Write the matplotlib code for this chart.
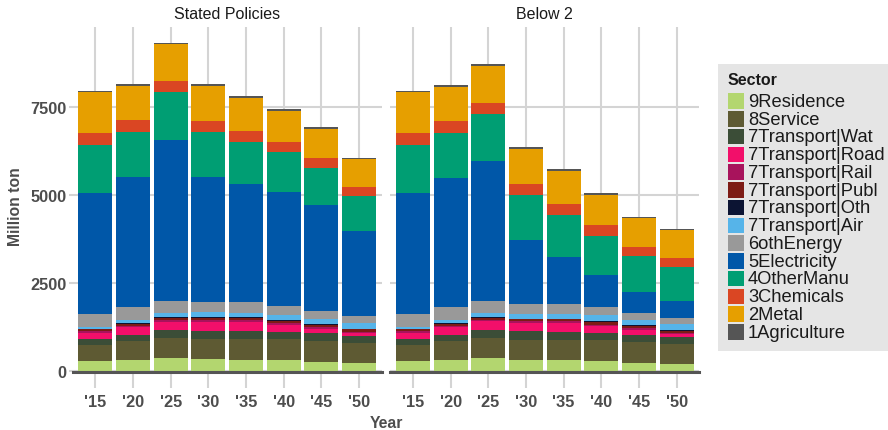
import matplotlib
matplotlib.use('Agg')
import matplotlib.pyplot as plt
import numpy as np
from matplotlib.patches import Rectangle

plt.rcParams['font.family'] = ['Liberation Sans', 'DejaVu Sans']

years = ["'15", "'20", "'25", "'30", "'35", "'40", "'45", "'50"]
panels = ['Stated Policies', 'Below 2']

# stacking order, bottom to top (also the legend order)
sectors = ['9Residence', '8Service', '7Transport|Wat', '7Transport|Road',
           '7Transport|Rail', '7Transport|Publ', '7Transport|Oth', '7Transport|Air',
           '6othEnergy', '5Electricity', '4OtherManu', '3Chemicals', '2Metal',
           '1Agriculture']
colors = ['#b3d66f', '#5e5a33', '#3b4d37', '#f20f6a', '#a8135c', '#7d1b15',
          '#0c1433', '#56b4e9', '#999999', '#0057a8', '#009e73', '#da4623',
          '#e69f00', '#555555']

# Stated Policies (million ton)
sp_residence = [265, 313, 350, 331, 313, 294, 256, 218]
sp_service = [455, 520, 588, 578, 596, 596, 587, 577]
sp_wat = [189, 190, 227, 227, 218, 218, 218, 199]
sp_road = [152, 208, 218, 247, 256, 189, 132, 76]
sp_rail = [66, 47, 47, 56, 47, 48, 48, 38]
sp_publ = [47, 48, 66, 57, 57, 57, 56, 66]
sp_oth = [19, 28, 29, 29, 28, 28, 29, 19]
sp_air = [57, 95, 123, 132, 133, 161, 151, 161]
sp_othenergy = [361, 351, 347, 303, 297, 259, 233, 191]
sp_electricity = [3437, 3703, 4568, 3543, 3359, 3218, 3006, 2432]
sp_othermanu = [1373, 1278, 1346, 1270, 1193, 1137, 1034, 986]
sp_chemicals = [324, 341, 321, 321, 313, 292, 284, 256]
sp_metal = [1165, 966, 1043, 994, 946, 890, 833, 787]
sp_agriculture = [45, 50, 40, 48, 48, 48, 48, 45]

# Below 2
b2_residence = [265, 313, 350, 312, 294, 275, 227, 189]
b2_service = [455, 520, 578, 569, 587, 587, 597, 559]
b2_wat = [189, 190, 227, 236, 227, 218, 199, 208]
b2_road = [152, 208, 247, 247, 246, 180, 142, 76]
b2_rail = [66, 47, 48, 46, 46, 50, 45, 38]
b2_publ = [47, 48, 60, 50, 60, 70, 55, 60]
b2_oth = [19, 28, 24, 17, 17, 22, 23, 16]
b2_air = [57, 95, 114, 148, 148, 168, 161, 180]
b2_othenergy = [361, 351, 342, 285, 261, 230, 201, 164]
b2_electricity = [3437, 3675, 3976, 1803, 1344, 928, 586, 490]
b2_othermanu = [1373, 1287, 1318, 1279, 1193, 1108, 1023, 975]
b2_chemicals = [324, 323, 330, 312, 302, 299, 265, 256]
b2_metal = [1165, 984, 1051, 996, 948, 861, 811, 777]
b2_agriculture = [45, 48, 48, 55, 48, 48, 45, 47]

stated = [sp_residence, sp_service, sp_wat, sp_road, sp_rail, sp_publ, sp_oth,
          sp_air, sp_othenergy, sp_electricity, sp_othermanu, sp_chemicals,
          sp_metal, sp_agriculture]
below2 = [b2_residence, b2_service, b2_wat, b2_road, b2_rail, b2_publ, b2_oth,
          b2_air, b2_othenergy, b2_electricity, b2_othermanu, b2_chemicals,
          b2_metal, b2_agriculture]

W, H = 888, 431
fig = plt.figure(figsize=(W / 100, H / 100), dpi=100)


def px_axes(x0, y0, x1, y1):
    # place axes using pixel coordinates measured from top-left
    return fig.add_axes([x0 / W, 1 - y1 / H, (x1 - x0) / W, (y1 - y0) / H])


grid_col = '#d4d4d4'
lab_col = '#4d4d4d'
axes = [px_axes(72.7, 28, 381.7, 371.7), px_axes(390.3, 28, 699.3, 371.7)]

for k, (ax, title, data) in enumerate(zip(axes, panels, [stated, below2])):
    x = np.arange(len(years))
    bottom = np.zeros(len(years))
    for vals, c in zip(data, colors):
        v = np.array(vals, dtype=float)
        ax.bar(x, v, bottom=bottom, width=0.9, color=c, linewidth=0, zorder=2)
        bottom += v
    ax.set_xlim(-0.6, 7.6)
    ax.set_ylim(0, 9770)
    ax.set_xticks(x)
    ax.set_xticklabels(years)
    ax.set_yticks([0, 2500, 5000, 7500])
    ax.grid(True, color=grid_col, linewidth=1.5, zorder=0)
    ax.set_axisbelow(True)
    for sp in ['top', 'right', 'left']:
        ax.spines[sp].set_visible(False)
    ax.spines['bottom'].set_color('#555555')
    ax.spines['bottom'].set_linewidth(2.2)
    ax.spines['bottom'].set_position(('outward', 1))
    ax.spines['bottom'].set_zorder(3)
    ax.tick_params(axis='x', length=11.5, width=1.5, color=grid_col,
                   labelsize=11.8, labelcolor=lab_col, pad=4.5)
    if k == 0:
        ax.tick_params(axis='y', length=3.2, width=1.5, color=grid_col,
                       labelsize=11.8, labelcolor=lab_col, pad=1.5)
    else:
        ax.tick_params(axis='y', length=0, labelleft=False)
    for lab in ax.get_xticklabels() + ax.get_yticklabels():
        lab.set_fontweight('bold')
    ax.text(0.5, 1 + 13 / 343.7, title, transform=ax.transAxes, ha='center',
            va='center', fontsize=11.5, color='#1a1a1a')

fig.text(16 / W, 1 - 207 / H, 'Million ton', rotation=90, ha='center',
         va='center', fontsize=11.3, fontweight='bold', color=lab_col)
fig.text(386 / W, 1 - 424 / H, 'Year', ha='center', va='center',
         fontsize=11.3, fontweight='bold', color=lab_col)

# legend panel
lax = px_axes(718, 65, 888, 352)
lax.set_xlim(718, 888)
lax.set_ylim(352, 65)
lax.set_facecolor('#e5e5e5')
lax.set_xticks([])
lax.set_yticks([])
for sp in lax.spines.values():
    sp.set_visible(False)
lax.text(728, 81, 'Sector', ha='left', va='center', fontsize=11.5,
         fontweight='bold', color='#1a1a1a')
for i, (s, c) in enumerate(zip(sectors, colors)):
    y0 = 94.3 + i * 17.75
    lax.add_patch(Rectangle((728, y0), 16, 15.5, facecolor=c, edgecolor='none'))
    lax.text(748, y0 + 8, s, ha='left', va='center', fontsize=13.2, color='#1a1a1a')

fig.savefig('out.png', dpi=100)
